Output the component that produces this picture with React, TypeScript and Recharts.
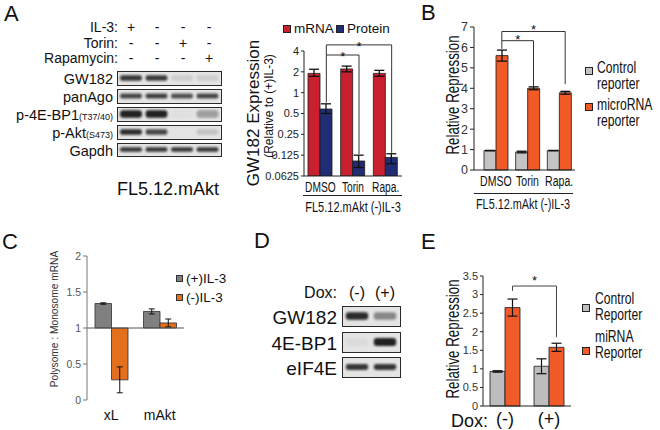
import React from 'react';
import { ComposedChart, BarChart, Bar, XAxis, YAxis, ErrorBar, ReferenceLine } from 'recharts';

const SANS = '"Liberation Sans", Arial, Helvetica, sans-serif';

// ---------- Panel A: western blot ----------
const aTreatments = ['IL-3:', 'Torin:', 'Rapamycin:'];
const aSigns = [
  ['+', '-', '-', '-'],
  ['-', '-', '+', '-'],
  ['-', '-', '-', '+'],
];
const aBlotLabels = ['GW182', 'panAgo', 'p-4E-BP1', 'p-Akt', 'Gapdh'];
const aBlotSubs = ['', '', '(T37/40)', '(S473)', ''];
const aGw182 = [0.85, 0.8, 0.1, 0.1];
const aPanAgo = [0.75, 0.78, 0.7, 0.75];
const aP4ebp1 = [0.95, 0.95, 0.02, 0.35];
const aPAkt = [0.9, 0.75, 0.0, 0.15];
const aGapdh = [0.85, 0.85, 0.85, 0.85];
const aCellLine = 'FL5.12.mAkt';

// ---------- Panel A: GW182 expression chart ----------
const a2Cats = ['DMSO', 'Torin', 'Rapa.'];
const a2Mrna = [1.9, 2.2, 1.9];
const a2MrnaErr = [[0.18, 0.28], [0.2, 0.22], [0.17, 0.2]];
const a2Prot = [0.58, 0.103, 0.116];
const a2ProtErr = [[0.08, 0.11], [0.02, 0.022], [0.022, 0.015]];
const a2Ticks = [0.0625, 0.125, 0.25, 0.5, 1, 2, 4];
const a2TickLabels = ['0.0625', '0.125', '0.25', '0.5', '1', '2', '4'];
const a2Series = ['mRNA', 'Protein'];
const groupLabel = 'FL5.12.mAkt (-)IL-3';

// ---------- Panel B ----------
const bCats = ['DMSO', 'Torin', 'Rapa.'];
const bControl = [0.95, 0.88, 0.95];
const bControlErr = [0.01, 0.04, 0.01];
const bMirna = [5.6, 4.0, 3.78];
const bMirnaErr = [0.27, 0.07, 0.07];
const bTicks = [0, 1, 2, 3, 4, 5, 6, 7];
const bLegend = [['Control', 'reporter'], ['microRNA', 'reporter']];

// ---------- Panel C ----------
const cCats = ['xL', 'mAkt'];
const cPlus = [1.34, 1.23];
const cPlusErr = [0.01, 0.035];
const cMinus = [0.28, 1.07];
const cMinusErr = [0.18, 0.055];
const cTicks = [0, 0.5, 1, 1.5, 2];
const cTickLabels = ['0', '0.5', '1', '1.5', '2'];
const cLegend = ['(+)IL-3', '(-)IL-3'];

// ---------- Panel D ----------
const dLanes = ['(-)', '(+)'];
const dBlotLabels = ['GW182', '4E-BP1', 'eIF4E'];
const dGw182 = [0.9, 0.45];
const dBp1 = [0.04, 0.95];
const dEif4e = [0.85, 0.82];

// ---------- Panel E ----------
const eCats = ['(-)', '(+)'];
const eControl = [0.93, 1.07];
const eControlErr = [0.02, 0.2];
const eMirna = [2.65, 1.58];
const eMirnaErr = [0.23, 0.11];
const eTicks = [0, 0.5, 1, 1.5, 2, 2.5, 3, 3.5];
const eTickLabels = ['0', '0.5', '1', '1.5', '2', '2.5', '3', '3.5'];
const eLegend = [['Control', 'Reporter'], ['miRNA', 'Reporter']];

type TProps = {
  x: number; y: number; size: number; children: React.ReactNode;
  align?: 'left' | 'center' | 'right'; color?: string; rotate?: boolean; sx?: number;
};
function T({ x, y, size, children, align = 'left', color = '#111', rotate = false, sx = 1 }: TProps) {
  const tx = align === 'left' ? '0' : align === 'center' ? '-50%' : '-100%';
  const sc = sx !== 1 ? ` scaleX(${sx})` : '';
  const origin = rotate ? 'center center' : align === 'left' ? 'left center' : align === 'right' ? 'right center' : 'center center';
  return (
    <div
      style={{
        position: 'absolute', left: x, top: y, fontFamily: SANS, fontSize: size, color,
        lineHeight: 1, whiteSpace: 'nowrap', transformOrigin: origin,
        transform: rotate ? `translate(-50%,-50%) rotate(-90deg)${sc}` : `translate(${tx},-50%)${sc}`,
      }}
    >
      {children}
    </div>
  );
}

function NarrowTick(props: any) {
  const { x, y, payload, fontSize = 13, sx = 0.74 } = props;
  return (
    <g transform={`translate(${x},${y})`}>
      <text transform={`scale(${sx},1)`} textAnchor="middle" dy="0.71em" fontFamily={SANS} fontSize={fontSize} fill="#111">
        {payload.value}
      </text>
    </g>
  );
}

function Swatch({ x, y, size, fill, stroke = '#222' }: { x: number; y: number; size: number; fill: string; stroke?: string }) {
  return (
    <div style={{ position: 'absolute', left: x, top: y, width: size, height: size, background: fill, border: `1px solid ${stroke}`, boxSizing: 'border-box' }} />
  );
}

function HLine({ x1, x2, y }: { x1: number; x2: number; y: number }) {
  return <div style={{ position: 'absolute', left: x1, top: y, width: x2 - x1, height: 0, borderTop: '1px solid #222' }} />;
}

function bracketShape(dx: number, color: string, star = false, starDy = 4) {
  return (p: any) => (
    <g>
      <line x1={p.x1 + dx} y1={p.y1} x2={p.x2 + dx} y2={p.y2} stroke={color} strokeWidth={1} />
      {star ? (
        <text x={(p.x1 + p.x2) / 2 + dx} y={p.y1 + starDy} textAnchor="middle" fontFamily={SANS} fontSize={13} fill="#111">*</text>
      ) : null}
    </g>
  );
}

function BandShape(props: any) {
  const { x, y, width, height, payload, thick, spread } = props;
  const bw = width * spread;
  const bh = height * thick;
  return (
    <rect
      x={x + (width - bw) / 2}
      y={y + (height - bh) / 2}
      width={bw}
      height={bh}
      rx={bh / 2.5}
      fill="#141414"
      fillOpacity={payload.v}
      filter="url(#blotBlur)"
    />
  );
}

function Blot({ x, y, w, h, values, thick, spread = 0.84 }: { x: number; y: number; w: number; h: number; values: number[]; thick: number; spread?: number }) {
  const data = values.map((v, i) => ({ lane: String(i), full: 1, v }));
  return (
    <div style={{ position: 'absolute', left: x, top: y, width: w, height: h, border: '1.5px solid #2a2a2a', background: '#e4e4e4', boxSizing: 'border-box' }}>
      <BarChart width={w - 3} height={h - 3} data={data} margin={{ top: 0, right: 0, bottom: 0, left: 0 }} barCategoryGap={0}>
        <defs>
          <filter id="blotBlur" x="-20%" y="-60%" width="140%" height="220%">
            <feGaussianBlur stdDeviation="0.8" />
          </filter>
        </defs>
        <XAxis dataKey="lane" hide />
        <YAxis hide domain={[0, 1]} />
        <Bar dataKey="full" isAnimationActive={false} shape={<BandShape thick={thick} spread={spread} />} />
      </BarChart>
    </div>
  );
}

function PanelABlot() {
  const laneX = [131, 157, 183, 209];
  const rowTops = [71, 89, 107, 125, 143];
  const rows = [aGw182, aPanAgo, aP4ebp1, aPAkt, aGapdh];
  const thick = [0.46, 0.42, 0.62, 0.46, 0.4];
  return (
    <>
      {aTreatments.map((t, r) => (
        <React.Fragment key={t}>
          <T x={118} y={27 + r * 15.5} size={14} align="right">{t}</T>
          {aSigns[r].map((s, i) => (
            <T key={i} x={laneX[i]} y={27 + r * 15.5} size={14} align="center">{s}</T>
          ))}
        </React.Fragment>
      ))}
      {rows.map((vals, r) => (
        <React.Fragment key={r}>
          <T x={113} y={rowTops[r] + 8} size={14.5} align="right">
            {aBlotLabels[r]}
            {aBlotSubs[r] ? <span style={{ fontSize: 9 }}>{aBlotSubs[r]}</span> : null}
          </T>
          <Blot x={117} y={rowTops[r]} w={105} h={r === 4 ? 14 : 15} values={vals} thick={thick[r]} />
        </React.Fragment>
      ))}
      <T x={168} y={189} size={18} align="center">{aCellLine}</T>
    </>
  );
}

function PanelAChart() {
  const data = a2Cats.map((c, i) => ({ cat: c, mrna: a2Mrna[i], mrnaErr: a2MrnaErr[i], prot: a2Prot[i], protErr: a2ProtErr[i] }));
  const dx = 6;
  const common = { ifOverflow: 'visible' as const, stroke: '#333' };
  return (
    <>
      <Swatch x={283} y={25} size={8} fill="#C8202E" />
      <T x={294} y={29} size={13.5}>{a2Series[0]}</T>
      <Swatch x={336} y={25} size={8} fill="#202C74" />
      <T x={347} y={29} size={13.5}>{a2Series[1]}</T>
      <T x={253} y={113} size={17} rotate>GW182 Expression</T>
      <T x={269} y={106} size={12} rotate>(Relative to (+)IL-3)</T>
      <div style={{ position: 'absolute', left: 230, top: 30 }}>
        <ComposedChart width={180} height={170} data={data} margin={{ top: 21, right: 8, bottom: 0, left: 24 }} barGap={0} barSize={12}>
          <XAxis dataKey="cat" tickLine={false} tickSize={3} axisLine={{ stroke: '#222' }} tick={<NarrowTick fontSize={15} sx={0.68} />} height={24} interval={0} />
          <YAxis
            scale="log" domain={[0.0625, 4]} ticks={a2Ticks} allowDataOverflow width={50}
            tickFormatter={(v: number) => a2TickLabels[a2Ticks.indexOf(v)] ?? String(v)}
            tick={{ fontFamily: SANS, fontSize: 11, fill: '#222' }} tickSize={3} axisLine={{ stroke: '#222' }} tickLine={{ stroke: '#222' }}
          />
          <Bar dataKey="mrna" fill="#C8202E" stroke="#1a1a1a" strokeWidth={0.8} isAnimationActive={false}>
            <ErrorBar dataKey="mrnaErr" width={5} stroke="#111" strokeWidth={1.3} />
          </Bar>
          <Bar dataKey="prot" fill="#202C74" stroke="#1a1a1a" strokeWidth={0.8} isAnimationActive={false}>
            <ErrorBar dataKey="protErr" width={5} stroke="#111" strokeWidth={1.3} />
          </Bar>
          <ReferenceLine {...common} segment={[{ x: a2Cats[0], y: 0.72 }, { x: a2Cats[0], y: 4.9 }]} shape={bracketShape(dx, '#333')} />
          <ReferenceLine {...common} segment={[{ x: a2Cats[0], y: 4.9 }, { x: a2Cats[2], y: 4.9 }]} shape={bracketShape(dx, '#333', true, 6)} />
          <ReferenceLine {...common} segment={[{ x: a2Cats[2], y: 4.9 }, { x: a2Cats[2], y: 0.135 }]} shape={bracketShape(dx, '#333')} />
          <ReferenceLine {...common} segment={[{ x: a2Cats[0], y: 3.5 }, { x: a2Cats[1], y: 3.5 }]} shape={bracketShape(dx, '#333', true, 6)} />
          <ReferenceLine {...common} segment={[{ x: a2Cats[1], y: 3.5 }, { x: a2Cats[1], y: 0.13 }]} shape={bracketShape(dx, '#333')} />
        </ComposedChart>
      </div>
      <HLine x1={303} x2={402} y={195} />
      <T x={353} y={207} size={14.5} sx={0.76} align="center">{groupLabel}</T>
    </>
  );
}

function PanelB() {
  const data = bCats.map((c, i) => ({ cat: c, ctrl: bControl[i], ctrlErr: bControlErr[i], mi: bMirna[i], miErr: bMirnaErr[i] }));
  const dx = 6;
  const common = { ifOverflow: 'visible' as const, stroke: '#333' };
  return (
    <>
      <T x={453} y={95} size={18.5} sx={0.72} rotate>Relative Repression</T>
      <div style={{ position: 'absolute', left: 420, top: 10 }}>
        <ComposedChart width={160} height={180} data={data} margin={{ top: 17, right: 5, bottom: 0, left: 24 }} barGap={0} barSize={12}>
          <XAxis dataKey="cat" padding={{ left: 6, right: 0 }} tickLine={false} tickSize={3} axisLine={{ stroke: '#222' }} tick={<NarrowTick fontSize={15.5} sx={0.68} />} height={20} interval={0} />
          <YAxis domain={[0, 7]} ticks={bTicks} width={30} tick={{ fontFamily: SANS, fontSize: 12.5, fill: '#333' }} tickSize={4} axisLine={{ stroke: '#222' }} tickLine={{ stroke: '#222' }} />
          <Bar dataKey="ctrl" fill="#C4C4C4" stroke="#1a1a1a" strokeWidth={0.8} isAnimationActive={false}>
            <ErrorBar dataKey="ctrlErr" width={5} stroke="#111" strokeWidth={1.3} />
          </Bar>
          <Bar dataKey="mi" fill="#F15A24" stroke="#1a1a1a" strokeWidth={0.8} isAnimationActive={false}>
            <ErrorBar dataKey="miErr" width={5} stroke="#111" strokeWidth={1.3} />
          </Bar>
          <ReferenceLine {...common} segment={[{ x: bCats[0], y: 5.93 }, { x: bCats[0], y: 6.78 }]} shape={bracketShape(dx, '#333')} />
          <ReferenceLine {...common} segment={[{ x: bCats[0], y: 6.78 }, { x: bCats[2], y: 6.78 }]} shape={bracketShape(dx, '#333', true, 3)} />
          <ReferenceLine {...common} segment={[{ x: bCats[2], y: 6.78 }, { x: bCats[2], y: 4.2 }]} shape={bracketShape(dx, '#333')} />
          <ReferenceLine {...common} segment={[{ x: bCats[0], y: 6.33 }, { x: bCats[1], y: 6.33 }]} shape={bracketShape(dx, '#333', true, 3)} />
          <ReferenceLine {...common} segment={[{ x: bCats[1], y: 6.33 }, { x: bCats[1], y: 4.1 }]} shape={bracketShape(dx, '#333')} />
        </ComposedChart>
      </div>
      <HLine x1={474} x2={573} y={193} />
      <T x={523} y={204} size={15.5} sx={0.7} align="center">{groupLabel}</T>
      <Swatch x={585} y={67} size={8} fill="#C4C4C4" />
      <T x={597} y={68} size={16} sx={0.76}>{bLegend[0][0]}</T>
      <T x={597} y={84} size={16} sx={0.76}>{bLegend[0][1]}</T>
      <Swatch x={585} y={103} size={8} fill="#F15A24" />
      <T x={597} y={105} size={16} sx={0.76}>{bLegend[1][0]}</T>
      <T x={597} y={121} size={16} sx={0.76}>{bLegend[1][1]}</T>
    </>
  );
}

function PanelC() {
  const data = cCats.map((c, i) => ({ cat: c, plus: [1, cPlus[i]], plusErr: cPlusErr[i], minus: [1, cMinus[i]], minusErr: cMinusErr[i] }));
  return (
    <>
      <T x={55} y={319} size={10.2} color="#333" rotate>Polysome : Monosome mRNA</T>
      <div style={{ position: 'absolute', left: 40, top: 240 }}>
        <ComposedChart width={150} height={190} data={data} margin={{ top: 16, right: 6, bottom: 0, left: 17 }} barGap={0} barSize={16.5}>
          <XAxis dataKey="cat" axisLine={false} tickLine={false} tickSize={8} tick={{ fontFamily: SANS, fontSize: 14, fill: '#111' }} height={30} interval={0} />
          <YAxis domain={[0, 2]} ticks={cTicks} width={30} tickFormatter={(v: number) => cTickLabels[cTicks.indexOf(v)] ?? String(v)} tick={{ fontFamily: SANS, fontSize: 10.5, fill: '#555' }} tickSize={4} axisLine={{ stroke: '#777' }} tickLine={{ stroke: '#777' }} />
          <Bar dataKey="plus" fill="#808080" stroke="#2e2e2e" strokeWidth={0.8} isAnimationActive={false}>
            <ErrorBar dataKey="plusErr" width={3} stroke="#111" strokeWidth={1} />
          </Bar>
          <Bar dataKey="minus" fill="#E4701E" stroke="#2e2e2e" strokeWidth={0.8} isAnimationActive={false}>
            <ErrorBar dataKey="minusErr" width={3} stroke="#111" strokeWidth={1} />
          </Bar>
          <ReferenceLine y={1} stroke="#555" strokeWidth={1} />
        </ComposedChart>
      </div>
      <Swatch x={176} y={275} size={7} fill="#808080" stroke="#333" />
      <T x={186} y={279} size={13.5}>{cLegend[0]}</T>
      <Swatch x={176} y={294} size={7} fill="#E4701E" stroke="#333" />
      <T x={186} y={298} size={13.5}>{cLegend[1]}</T>
    </>
  );
}

function PanelD() {
  const laneX = [357, 385];
  const rowTops = [306, 332, 357];
  const rows = [dGw182, dBp1, dEif4e];
  const thick = [0.42, 0.45, 0.34];
  return (
    <>
      <T x={337} y={293} size={16} align="right">Dox:</T>
      {dLanes.map((l, i) => (
        <T key={l} x={laneX[i]} y={293} size={16} align="center">{l}</T>
      ))}
      {rows.map((vals, r) => (
        <React.Fragment key={r}>
          <T x={337} y={rowTops[r] + 11} size={19} align="right">{dBlotLabels[r]}</T>
          <Blot x={342} y={rowTops[r]} w={59} h={21} values={vals} thick={thick[r]} spread={0.8} />
        </React.Fragment>
      ))}
    </>
  );
}

function PanelE() {
  const data = eCats.map((c, i) => ({ cat: c, ctrl: eControl[i], ctrlErr: eControlErr[i], mi: eMirna[i], miErr: eMirnaErr[i] }));
  const dx = 7.5;
  const common = { ifOverflow: 'visible' as const, stroke: '#444' };
  return (
    <>
      <T x={453} y={339} size={18.5} sx={0.72} rotate>Relative Repression</T>
      <div style={{ position: 'absolute', left: 440, top: 260 }}>
        <ComposedChart width={140} height={170} data={data} margin={{ top: 16, right: 9, bottom: 0, left: 13 }} barGap={0} barSize={15}>
          <XAxis dataKey="cat" tickLine={false} tickSize={4} axisLine={{ stroke: '#222' }} tick={{ fontFamily: SANS, fontSize: 18, fill: '#111' }} height={24} interval={0} />
          <YAxis domain={[0, 3.5]} ticks={eTicks} width={30} tickFormatter={(v: number) => eTickLabels[eTicks.indexOf(v)] ?? String(v)} tick={{ fontFamily: SANS, fontSize: 11, fill: '#333' }} tickSize={3} axisLine={{ stroke: '#222' }} tickLine={{ stroke: '#222' }} />
          <Bar dataKey="ctrl" fill="#BDBDBD" stroke="#1a1a1a" strokeWidth={0.8} isAnimationActive={false}>
            <ErrorBar dataKey="ctrlErr" width={5} stroke="#111" strokeWidth={1.2} />
          </Bar>
          <Bar dataKey="mi" fill="#F15A29" stroke="#1a1a1a" strokeWidth={0.8} isAnimationActive={false}>
            <ErrorBar dataKey="miErr" width={5} stroke="#111" strokeWidth={1.2} />
          </Bar>
          <ReferenceLine {...common} segment={[{ x: eCats[0], y: 3.1 }, { x: eCats[0], y: 3.23 }]} shape={bracketShape(dx, '#444')} />
          <ReferenceLine {...common} segment={[{ x: eCats[0], y: 3.23 }, { x: eCats[1], y: 3.23 }]} shape={bracketShape(dx, '#444', true, -1)} />
          <ReferenceLine {...common} segment={[{ x: eCats[1], y: 3.23 }, { x: eCats[1], y: 1.85 }]} shape={bracketShape(dx, '#444')} />
        </ComposedChart>
      </div>
      <T x={451} y={421} size={18}>Dox:</T>
      <Swatch x={582} y={304} size={8} fill="#BDBDBD" />
      <T x={595} y={299} size={16} sx={0.76}>{eLegend[0][0]}</T>
      <T x={595} y={315} size={16} sx={0.76}>{eLegend[0][1]}</T>
      <Swatch x={582} y={347} size={8} fill="#F15A29" />
      <T x={595} y={337} size={16} sx={0.76}>{eLegend[1][0]}</T>
      <T x={595} y={353} size={16} sx={0.76}>{eLegend[1][1]}</T>
    </>
  );
}

export default function App() {
  return (
    <div style={{ position: 'absolute', left: 0, top: 0, width: 660, height: 430, background: '#fff', overflow: 'hidden', fontFamily: SANS }}>
      <T x={4} y={14} size={22}>A</T>
      <T x={421} y={13} size={22}>B</T>
      <T x={2} y={242} size={22}>C</T>
      <T x={254} y={241} size={22}>D</T>
      <T x={421} y={242} size={22}>E</T>
      <PanelABlot />
      <PanelAChart />
      <PanelB />
      <PanelC />
      <PanelD />
      <PanelE />
    </div>
  );
}
